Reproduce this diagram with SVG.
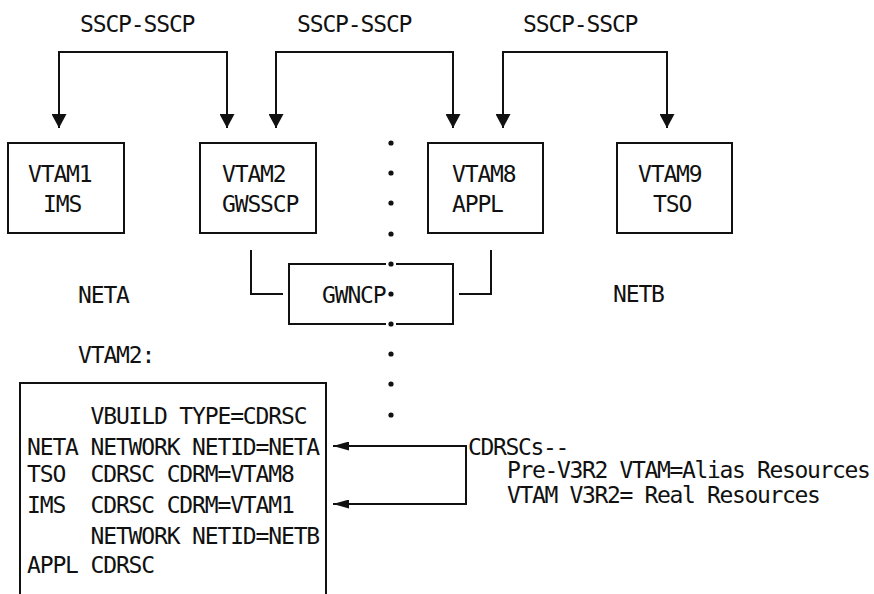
<svg xmlns="http://www.w3.org/2000/svg" width="874" height="594" viewBox="0 0 874 594">
<style>
text{font-family:"DejaVu Sans Mono","Liberation Mono",monospace;font-size:23px;letter-spacing:-1.15px;fill:#111}
text.nt{letter-spacing:-1.35px}
.ln{fill:none;stroke:#111;stroke-width:2}
.dot{fill:#111}
</style>
<defs>
<marker id="ah" viewBox="0 0 14 15" refX="14" refY="7.5" markerWidth="14" markerHeight="15" markerUnits="userSpaceOnUse" orient="auto-start-reverse"><path d="M0,0 L14,7.5 L0,15 z" fill="#111"/></marker>
<marker id="as" viewBox="0 0 16 9" refX="16" refY="4.5" markerWidth="16" markerHeight="9" markerUnits="userSpaceOnUse" orient="auto-start-reverse"><path d="M0,0 L16,4.5 L0,9 z" fill="#111"/></marker>
</defs>
<rect width="874" height="594" fill="#fff"/>
<g id="labels">
<text x="80" y="32">SSCP-SSCP</text>
<text x="297" y="32">SSCP-SSCP</text>
<text x="523" y="32">SSCP-SSCP</text>
<text x="78" y="303">NETA</text>
<text x="613" y="302">NETB</text>
<text x="78" y="363">VTAM2:</text>
</g>
<g id="vtam1"><rect class="ln" x="8" y="143" width="116" height="90"/><text x="28" y="182">VTAM1</text><text x="43" y="212">IMS</text></g>
<g id="vtam2"><rect class="ln" x="200" y="143" width="116" height="90"/><text x="222" y="182">VTAM2</text><text x="222" y="212">GWSSCP</text></g>
<g id="vtam8"><rect class="ln" x="428" y="143" width="115" height="90"/><text x="452" y="182">VTAM8</text><text x="452" y="212">APPL</text></g>
<g id="vtam9"><rect class="ln" x="617" y="143" width="115" height="90"/><text x="638" y="182">VTAM9</text><text x="653" y="212">TSO</text></g>
<g id="gwncp"><path class="ln" d="M386,264 H289 V324 H386 M396,264 H453 V324 H396"/><text x="322" y="303">GWNCP</text></g>
<g id="vtam2def">
<path class="ln" d="M20,600 V383 H326 V600"/>
<text xml:space="preserve" x="27" y="424">     VBUILD TYPE=CDRSC</text>
<text xml:space="preserve" x="27" y="455">NETA NETWORK NETID=NETA</text>
<text xml:space="preserve" x="27" y="482">TSO  CDRSC CDRM=VTAM8</text>
<text xml:space="preserve" x="27" y="513">IMS  CDRSC CDRM=VTAM1</text>
<text xml:space="preserve" x="27" y="544">     NETWORK NETID=NETB</text>
<text xml:space="preserve" x="27" y="573">APPL CDRSC</text>
</g>
<g id="note">
<text class="nt" x="468" y="455">CDRSCs--</text>
<text class="nt" x="507" y="478">Pre-V3R2 VTAM=Alias Resources</text>
<text class="nt" x="507" y="503">VTAM V3R2= Real Resources</text>
</g>
<g id="divider">
<circle class="dot" cx="391" cy="143" r="2.6"/>
<circle class="dot" cx="391" cy="173" r="2.6"/>
<circle class="dot" cx="391" cy="203" r="2.6"/>
<circle class="dot" cx="391" cy="234" r="2.6"/>
<circle class="dot" cx="391" cy="264" r="2.6"/>
<circle class="dot" cx="391" cy="294" r="2.6"/>
<circle class="dot" cx="391" cy="324" r="2.6"/>
<circle class="dot" cx="391" cy="354" r="2.6"/>
<circle class="dot" cx="391" cy="384" r="2.6"/>
<circle class="dot" cx="391" cy="415" r="2.6"/>
</g>
<g id="connectors">
<path class="ln" d="M59,128 V52 H227 V128" marker-start="url(#ah)" marker-end="url(#ah)"/>
<path class="ln" d="M276,128 V52 H453 V128" marker-start="url(#ah)" marker-end="url(#ah)"/>
<path class="ln" d="M503,128 V52 H667 V128" marker-start="url(#ah)" marker-end="url(#ah)"/>
<path class="ln" d="M251,250 V294 H283"/>
<path class="ln" d="M491,250 V294 H459"/>
<path class="ln" d="M333,446 H466 V504 H333" marker-start="url(#as)" marker-end="url(#as)"/>
</g>
</svg>
